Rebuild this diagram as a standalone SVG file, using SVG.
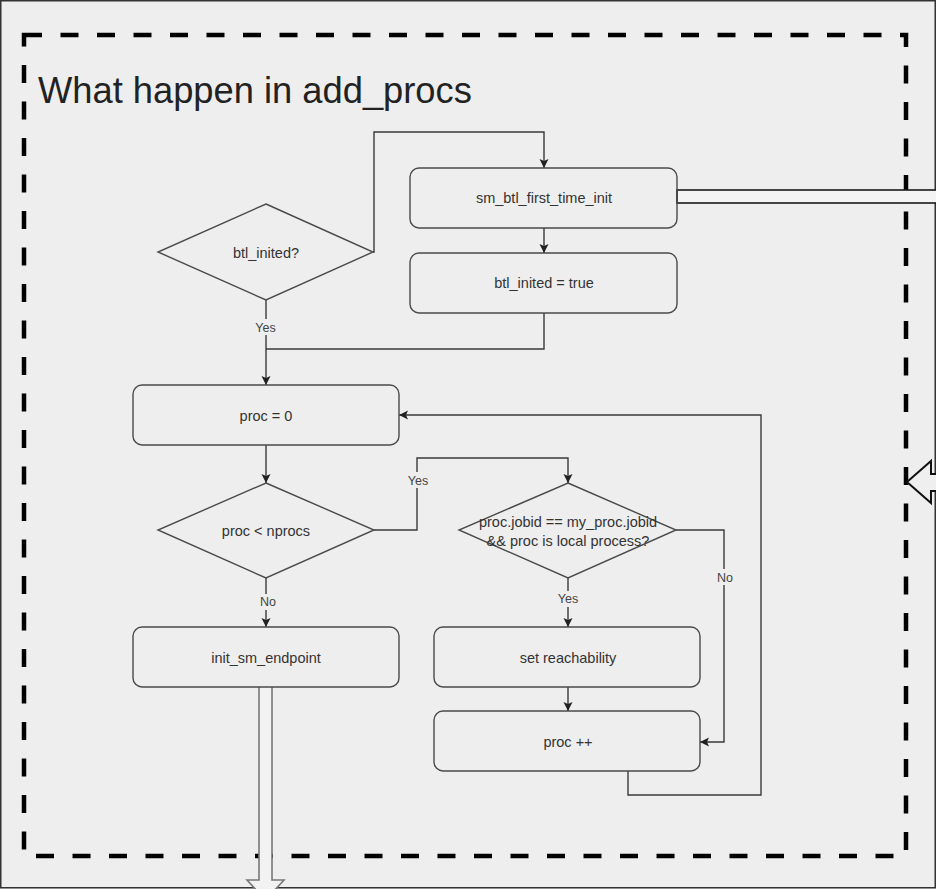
<svg xmlns="http://www.w3.org/2000/svg" width="936" height="889" viewBox="0 0 936 889">
<defs>
<marker id="arr" markerUnits="userSpaceOnUse" markerWidth="10" markerHeight="10" refX="9" refY="5" orient="auto">
<path d="M0,0.5 L9,5 L0,9.5 L2,5 z" fill="#222"/>
</marker>
<style>
.box{fill:none;stroke:#4a4a4a;stroke-width:1.4}
.t{font-family:"Liberation Sans",Arial,sans-serif;font-size:14.5px;fill:#333;text-anchor:middle}
.lbl{font-family:"Liberation Sans",Arial,sans-serif;font-size:12.5px;fill:#444;text-anchor:middle}
.lb{fill:#eeeeee}
.c{fill:none;stroke:#3a3a3a;stroke-width:1.4}
</style>
</defs>
<rect x="0" y="0" width="936" height="889" fill="#eeeeee"/>
<rect x="0.75" y="0.75" width="934.5" height="887" fill="none" stroke="#333" stroke-width="1.5"/>
<g id="frame">
<rect x="24" y="35" width="882" height="821" fill="none" stroke="#000" stroke-width="4.5" stroke-dasharray="18 18.5"/>
<text x="38" y="103" font-family="Liberation Sans,Arial,sans-serif" font-size="36.3" fill="#222">What happen in add_procs</text>
</g>
<g id="connectors">
<path class="c" d="M373,252 L374,252 L374,132 L544,132 L544,168" marker-end="url(#arr)"/>
<path class="c" d="M544,228 L544,253" marker-end="url(#arr)"/>
<path class="c" d="M544,313 L544,349 L266,349"/>
<path class="c" d="M266,300 L266,385" marker-end="url(#arr)"/>
<path class="c" d="M266,445 L266,483" marker-end="url(#arr)"/>
<path class="c" d="M374,530 L417,530 L417,458 L568,458 L568,483" marker-end="url(#arr)"/>
<path class="c" d="M266,578 L266,627" marker-end="url(#arr)"/>
<path class="c" d="M568,578 L568,627" marker-end="url(#arr)"/>
<path class="c" d="M676,530 L724,530 L724,742 L700,742" marker-end="url(#arr)"/>
<path class="c" d="M568,687 L568,711" marker-end="url(#arr)"/>
<path class="c" d="M628,771 L628,795 L761,795 L761,415 L399,415" marker-end="url(#arr)"/>
<rect class="lb" x="252" y="319" width="27" height="16"/>
<text class="lbl" x="265.5" y="332">Yes</text>
<rect class="lb" x="405" y="472" width="27" height="16"/>
<text class="lbl" x="418" y="485">Yes</text>
<rect class="lb" x="257" y="594" width="22" height="16"/>
<text class="lbl" x="268" y="606">No</text>
<rect class="lb" x="555" y="591" width="27" height="16"/>
<text class="lbl" x="568" y="603">Yes</text>
<rect class="lb" x="714" y="569" width="22" height="16"/>
<text class="lbl" x="725" y="582">No</text>
<rect x="677" y="190" width="262" height="13" fill="#f4f4f4" stroke="#1a1a1a" stroke-width="1.6"/>
<path d="M259,687 L259,880 L247,880 L265.5,900 L284,880 L272,880 L272,687" fill="#f2f2f2" stroke="#777" stroke-width="1.6"/>
<polygon points="907,482 931,461 931,474 940,474 940,491 931,491 931,503" fill="#efefef" stroke="#111" stroke-width="2"/>
</g>
<g id="n_first_init">
<rect class="box" x="410" y="168" width="267" height="60" rx="9"/>
<text class="t" x="544" y="203">sm_btl_first_time_init</text>
</g>
<g id="n_inited_true">
<rect class="box" x="410" y="253" width="267" height="60" rx="9"/>
<text class="t" x="544" y="288">btl_inited = true</text>
</g>
<g id="n_btl_inited">
<polygon class="box" points="266,204 373,252 266,300 158,252"/>
<text class="t" x="266" y="258">btl_inited?</text>
</g>
<g id="n_proc0">
<rect class="box" x="133" y="385" width="266" height="60" rx="9"/>
<text class="t" x="266" y="421">proc = 0</text>
</g>
<g id="n_proc_lt">
<polygon class="box" points="266,483 374,530 266,578 158,530"/>
<text class="t" x="266" y="536">proc &lt; nprocs</text>
</g>
<g id="n_jobid">
<polygon class="box" points="568,483 676,530 568,578 459,530"/>
<text class="t" x="568" y="527">proc.jobid == my_proc.jobid</text>
<text class="t" x="568" y="546">&amp;&amp; proc is local process?</text>
</g>
<g id="n_init_ep">
<rect class="box" x="133" y="627" width="266" height="60" rx="9"/>
<text class="t" x="266" y="663">init_sm_endpoint</text>
</g>
<g id="n_reach">
<rect class="box" x="434" y="627" width="266" height="60" rx="9"/>
<text class="t" x="568" y="663">set reachability</text>
</g>
<g id="n_procpp">
<rect class="box" x="434" y="711" width="266" height="60" rx="9"/>
<text class="t" x="568" y="747">proc ++</text>
</g>
</svg>
